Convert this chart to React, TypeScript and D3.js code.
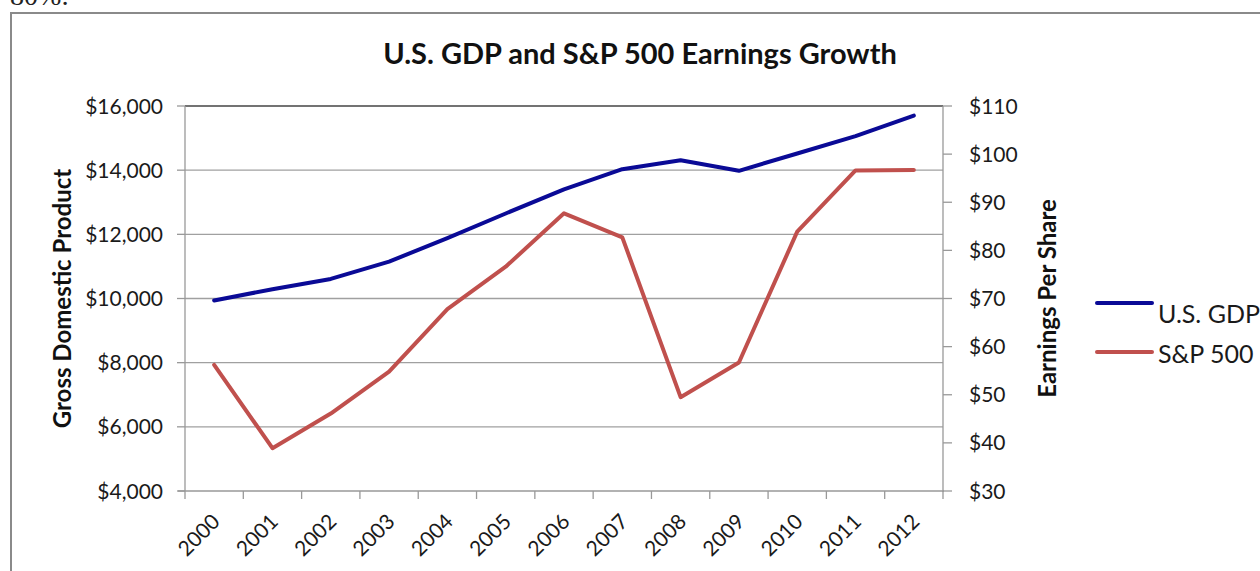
import React from 'react';
import * as d3 from 'd3';

const years = ['2000', '2001', '2002', '2003', '2004', '2005', '2006', '2007', '2008', '2009', '2010', '2011', '2012'];
const gdp = [9940, 10290, 10610, 11150, 11880, 12650, 13400, 14030, 14310, 13980, 14520, 15060, 15700];
const eps = [56.2, 38.9, 46.1, 54.8, 67.8, 76.6, 87.7, 82.7, 49.5, 56.7, 83.9, 96.6, 96.7];
const gdpTicks = [4000, 6000, 8000, 10000, 12000, 14000, 16000];
const epsTicks = [30, 40, 50, 60, 70, 80, 90, 100, 110];
const seriesNames = ['U.S. GDP', 'S&P 500'];

const W = 1260;
const H = 571;
const plot = { left: 185, right: 943, top: 106, bottom: 491 };
const font = 'Lato, "Open Sans", sans-serif';
const blue = '#0a0a96';
const red = '#c0504d';

const App = () => {
    const x = d3.scaleBand().domain(years).range([plot.left, plot.right]);
    const cx = (d: string) => (x(d) as number) + x.bandwidth() / 2;
    const yL = d3.scaleLinear().domain([4000, 16000]).range([plot.bottom, plot.top]);
    const yR = d3.scaleLinear().domain([30, 110]).range([plot.bottom, plot.top]);

    const gdpLine = d3.line<number>().x((_, i) => cx(years[i])).y(d => yL(d));
    const epsLine = d3.line<number>().x((_, i) => cx(years[i])).y(d => yR(d));

    const fmtL = (v: number) => '$' + d3.format(',')(v);
    const boundaries = [...years.map(d => x(d) as number), plot.right];

    return (
        <svg width={W} height={H} style={{ position: 'absolute', left: 0, top: 0, background: '#fff' }}>
            {/* page text above the chart, cut off at the top as in the source */}
            <text x={10} y={5} fontFamily="serif" fontSize={28} fill="#222">80%:</text>
            <rect x={11} y={13} width={W + 20} height={H + 20} fill="none" stroke="#8a8a8a" strokeWidth={2} />

            <text x={640} y={64} textAnchor="middle" fontFamily={font} fontWeight="bold" fontSize={29} fill="#111">
                U.S. GDP and S&amp;P 500 Earnings Growth
            </text>

            {/* gridlines */}
            {gdpTicks.slice(1).map(t => (
                <line key={t} x1={plot.left} x2={plot.right} y1={yL(t)} y2={yL(t)}
                    stroke={t === 16000 ? '#444' : '#a0a0a0'} strokeWidth={1.3} />
            ))}

            {/* axes */}
            <line x1={plot.left} x2={plot.left} y1={plot.top} y2={plot.bottom} stroke="#999" strokeWidth={1.3} />
            <line x1={plot.right} x2={plot.right} y1={plot.top} y2={plot.bottom + 1} stroke="#999" strokeWidth={1.3} />
            <line x1={plot.left - 7} x2={plot.right + 1} y1={plot.bottom} y2={plot.bottom} stroke="#999" strokeWidth={1.3} />

            {gdpTicks.map(t => (
                <g key={t}>
                    <line x1={plot.left - 8} x2={plot.left} y1={yL(t)} y2={yL(t)} stroke="#999" strokeWidth={1.3} />
                    <text x={163} y={yL(t)} dy="0.36em" textAnchor="end" fontFamily={font} fontSize={21} fill="#1a1a1a">
                        {fmtL(t)}
                    </text>
                </g>
            ))}
            {epsTicks.map(t => (
                <g key={t}>
                    <line x1={plot.right} x2={plot.right + 9} y1={yR(t)} y2={yR(t)} stroke="#999" strokeWidth={1.3} />
                    <text x={969} y={yR(t)} dy="0.36em" fontFamily={font} fontSize={21} fill="#1a1a1a">
                        {'$' + t}
                    </text>
                </g>
            ))}
            {boundaries.map((b, i) => (
                <line key={i} x1={b} x2={b} y1={plot.bottom} y2={plot.bottom + 8} stroke="#999" strokeWidth={1.3} />
            ))}
            {years.map(d => (
                <text key={d} transform={`translate(${cx(d) + 7},${plot.bottom + 32}) rotate(-45)`}
                    textAnchor="end" fontFamily={font} fontSize={21} fill="#1a1a1a">
                    {d}
                </text>
            ))}

            <text transform={`translate(71,${(plot.top + plot.bottom) / 2}) rotate(-90)`} textAnchor="middle"
                fontFamily={font} fontWeight="bold" fontSize={24} fill="#111">
                Gross Domestic Product
            </text>
            <text transform={`translate(1056,${(plot.top + plot.bottom) / 2}) rotate(-90)`} textAnchor="middle"
                fontFamily={font} fontWeight="bold" fontSize={24} fill="#111">
                Earnings Per Share
            </text>

            {/* series */}
            <path d={gdpLine(gdp) as string} fill="none" stroke={blue} strokeWidth={4} strokeLinejoin="round" strokeLinecap="round" />
            <path d={epsLine(eps) as string} fill="none" stroke={red} strokeWidth={4} strokeLinejoin="round" strokeLinecap="round" />

            {/* legend */}
            <line x1={1097} x2={1152} y1={303} y2={303} stroke={blue} strokeWidth={4} strokeLinecap="round" />
            <text x={1158} y={323} fontFamily={font} fontSize={25} fill="#1a1a1a">{seriesNames[0]}</text>
            <line x1={1097} x2={1152} y1={352} y2={352} stroke={red} strokeWidth={4} strokeLinecap="round" />
            <text x={1158} y={363} fontFamily={font} fontSize={25} fill="#1a1a1a">{seriesNames[1]}</text>
        </svg>
    );
};

export default App;
